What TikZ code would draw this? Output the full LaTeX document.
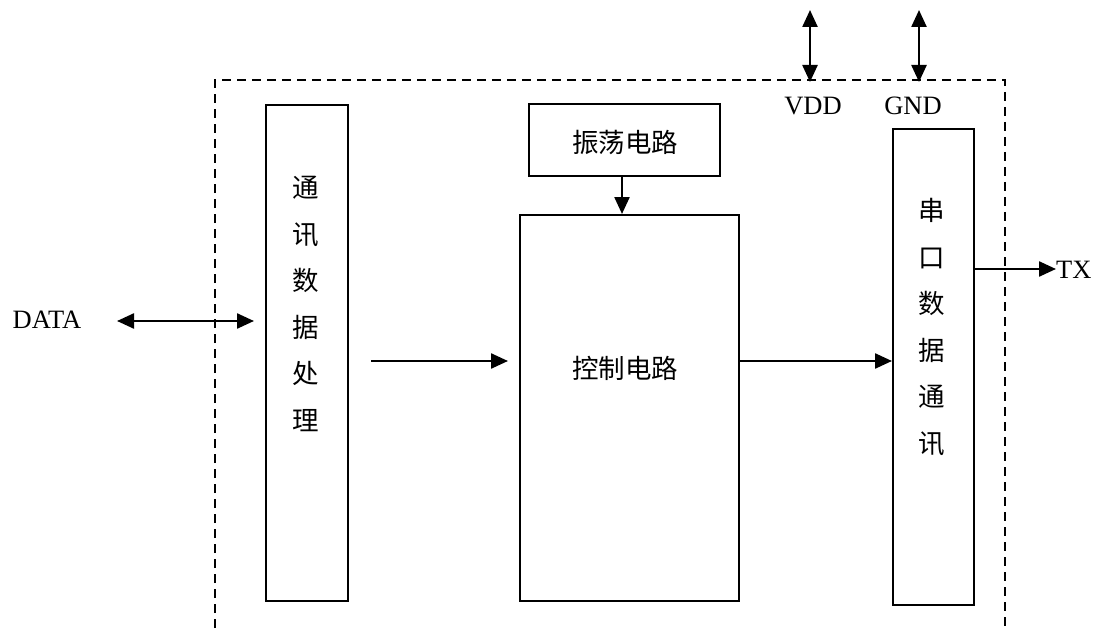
\documentclass[tikz,border=0pt]{standalone}
\usepackage{fontspec}
\setmainfont{Liberation Serif}
\newfontfamily\cjk{Noto Sans CJK SC}
\usetikzlibrary{arrows.meta}
\begin{document}
\begin{tikzpicture}[x=1pt,y=-1pt,
  box/.style={draw, line width=2pt, inner sep=0pt, anchor=north west},
  arr/.style={line width=2.4pt, -{Triangle[length=17pt,width=15pt]}},
  darr/.style={line width=2.4pt, {Triangle[length=17pt,width=15pt]}-{Triangle[length=17pt,width=15pt]}},
  lbl/.style={font=\fontsize{26.5}{30}\selectfont, inner sep=0pt},
  cjkt/.style={font=\cjk\fontsize{26.5}{46.5}\selectfont, align=center, inner sep=0pt},
  frame/.style={line width=2pt, dash pattern=on 9pt off 6pt}]
\useasboundingbox (0,0) rectangle (1094,631);
% dashed frame
\coordinate (fbl) at (215,628);
\coordinate (ftl) at (215,80);
\coordinate (ftr) at (1005,80);
\coordinate (fbr) at (1005,628);
\draw[frame] (fbl) -- (ftl) -- (ftr) -- (fbr);
% boxes
\node[box, minimum width=82pt, minimum height=496pt] (comm) at (265,104) {};
\node[cjkt] (commt) at (306,304) {通\\讯\\数\\据\\处\\理};
\node[box, minimum width=191pt, minimum height=72pt] (osc) at (528,103) {};
\node[cjkt] (osct) at (625,142) {振荡电路};
\node[box, minimum width=219pt, minimum height=386pt] (ctrl) at (519,214) {};
\node[cjkt] (ctrlt) at (625,368) {控制电路};
\node[box, minimum width=81pt, minimum height=476pt] (uart) at (892,128) {};
\node[cjkt] (uartt) at (932,327) {串\\口\\数\\据\\通\\讯};
% labels
\node[lbl] (data) at (47,320) {DATA};
\node[lbl] (vdd) at (813,106) {VDD};
\node[lbl] (gnd) at (913,106) {GND};
\node[lbl, anchor=west] (tx) at (1056,270) {TX};
% connectors
\coordinate (vddtop) at (810,10);
\coordinate (vddbot) at (810,82);
\coordinate (gndtop) at (919,10);
\coordinate (gndbot) at (919,82);
\draw[darr] (vddtop) -- (vddbot);
\draw[darr] (gndtop) -- (gndbot);
\coordinate (datal) at (117,321);
\coordinate (datar) at (254,321);
\draw[darr] (datal) -- (datar);
\coordinate (m1) at (371,361);
\coordinate (m2) at (508,361);
\draw[arr] (m1) -- (m2);
\draw[arr] (osc.south -| 622,0) -- (ctrl.north -| 622,0);
\draw[arr] (ctrl.east |- 0,361) -- (uart.west |- 0,361);
\coordinate (txend) at (1056,269);
\draw[arr] (uart.east |- 0,269) -- (txend);
\end{tikzpicture}
\end{document}
